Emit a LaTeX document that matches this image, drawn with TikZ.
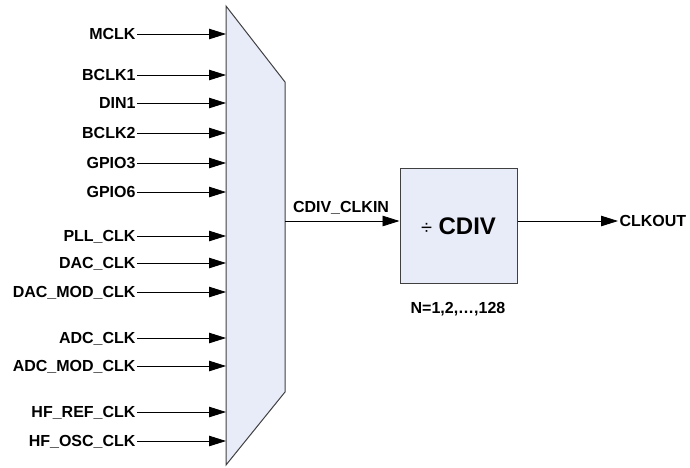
\documentclass[tikz,border=0pt]{standalone}
\usepackage{fontspec}
\setmainfont{Liberation Sans}
\usetikzlibrary{arrows.meta}
\definecolor{muxfill}{HTML}{E8ECF8}
\definecolor{edgecol}{HTML}{404040}
\begin{document}
\begin{tikzpicture}[x=1pt,y=-1pt,
  lab/.style={font=\fontsize{16}{19}\bfseries\selectfont, inner sep=0pt, outer xsep=1.5pt, text height=11.5pt, text depth=0pt},
  sig/.style={-{Triangle[length=17pt,width=10.5pt]}, line width=0.8pt},
  blockbox/.style={draw=edgecol, fill=muxfill, line width=1pt, minimum width=117pt, minimum height=115pt, inner sep=0pt}]
\useasboundingbox (0,0) rectangle (690,467);
\draw[fill=muxfill, draw=edgecol, line width=1pt] (226,6) -- (285,82) -- (285,392) -- (226,465) -- cycle;
\coordinate (muxL) at (226,0);
\coordinate (muxR) at (285,0);
\foreach \n/\t/\y in {mclk/MCLK/34, bclka/BCLK1/75, dina/DIN1/103, bclkb/BCLK2/133, gpioc/GPIO3/163, gpiof/GPIO6/192, pll/PLL\_CLK/236, dac/DAC\_CLK/263, dacmod/DAC\_MOD\_CLK/292, adc/ADC\_CLK/338, adcmod/ADC\_MOD\_CLK/366, hfref/HF\_REF\_CLK/412, hfosc/HF\_OSC\_CLK/441}{
  \node[lab, anchor=east] (\n) at (137,\y) {\t};
  \draw[sig] (\n.east) -- (\n.east -| muxL);
}
\node[blockbox] (cdiv) at (458.5,225.5) {};
\node[font=\fontsize{24}{28}\bfseries\selectfont, inner sep=0pt, text height=17.2pt, text depth=0pt] (cdivtxt) at (458.5,225.5) {{\mdseries\fontsize{20}{24}\selectfont ÷} CDIV};
\coordinate (cin) at (285,221);
\draw[sig] (cin) -- (cin -| cdiv.west);
\node[lab, anchor=south west, outer xsep=0pt] (cdivin) at (293,213) {CDIV\_CLKIN};
\node[lab, anchor=west] (clkout) at (618,221) {CLKOUT};
\draw[sig] (cin -| cdiv.east) -- (clkout.west);
\node[lab] (nrange) at (458,307.5) {N=1,2,…,128};
\end{tikzpicture}
\end{document}
